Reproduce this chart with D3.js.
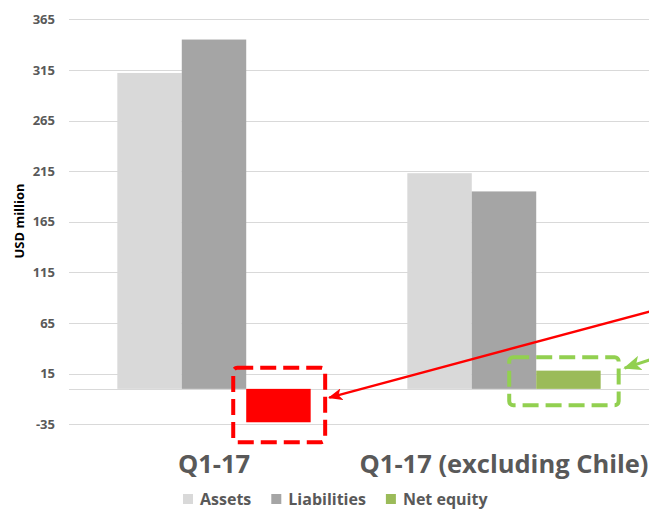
<!DOCTYPE html>
<html>
<head>
<meta charset="utf-8">
<script src="https://cdn.jsdelivr.net/npm/d3@7"></script>
<style>
  body { margin: 0; background: #fff; }
  text { font-family: "Open Sans", sans-serif; font-weight: bold; }
</style>
</head>
<body>
<div id="chart"></div>
<script>
// data
var categories = ['Q1-17', 'Q1-17 (excluding Chile)']
var series = ['Assets', 'Liabilities', 'Net equity']
var assets = [312, 213]
var liabilities = [345, 195]
var netEquity = [-33, 18]
var yTicks = [-35, 15, 65, 115, 165, 215, 265, 315, 365]

var seriesColor = ['#d9d9d9', '#a5a5a5', '#9bbb59']
var equityColor = ['#ff0000', '#9bbb59']
var boxColor = ['#ff0000', '#92d050']

// set dimensions
var width = 649
var height = 509
var margin = { top: 19.3, right: 0, bottom: 84.7, left: 69 }

var svg = d3.select('#chart')
    .append('svg')
    .attr('width', width)
    .attr('height', height)

var x0 = d3.scaleBand()
    .domain(categories)
    .range([margin.left, width - margin.right])
var x1 = d3.scaleBand()
    .domain(series)
    .range([0, x0.bandwidth()])
    .paddingOuter(0.75)
var y = d3.scaleLinear()
    .domain([-35, 365])
    .range([height - margin.bottom, margin.top])

// gridlines
svg.append('g')
    .selectAll('line')
    .data(yTicks.concat([0]))
    .enter().append('line')
    .attr('x1', margin.left)
    .attr('x2', width)
    .attr('y1', function (d) { return Math.round(y(d)) + 0.5 })
    .attr('y2', function (d) { return Math.round(y(d)) + 0.5 })
    .style('stroke', '#d9d9d9')
    .style('stroke-width', 1)

// y axis labels
var yAxis = d3.axisLeft(y)
    .tickValues(yTicks)
    .tickFormat(function (d) { return String(d) })
    .tickSize(0)
    .tickPadding(14)
var gy = svg.append('g')
    .attr('transform', 'translate(' + margin.left + ',0)')
    .call(yAxis)
gy.select('.domain').remove()
gy.selectAll('text')
    .style('font-size', '13px')
    .style('font-family', '"Open Sans", sans-serif')
    .style('font-weight', 'bold')
    .style('fill', '#595959')

svg.append('text')
    .attr('transform', 'translate(24,221) rotate(-90)')
    .style('text-anchor', 'middle')
    .style('font-size', '13px')
    .style('fill', '#000')
    .text('USD million')

// bars
var rows = categories.map(function (c, i) {
    return { cat: i, values: [assets[i], liabilities[i], netEquity[i]] }
})
var group = svg.selectAll('.group')
    .data(rows)
    .enter().append('g')
    .attr('class', 'group')
    .attr('transform', function (d) { return 'translate(' + x0(categories[d.cat]) + ',0)' })
group.selectAll('rect')
    .data(function (d) {
        return d.values.map(function (v, j) { return { cat: d.cat, s: j, v: v } })
    })
    .enter().append('rect')
    .attr('x', function (d) { return x1(series[d.s]) })
    .attr('width', x1.bandwidth())
    .attr('y', function (d) { return y(Math.max(0, d.v)) })
    .attr('height', function (d) { return Math.abs(y(d.v) - y(0)) })
    .style('fill', function (d) { return d.s === 2 ? equityColor[d.cat] : seriesColor[d.s] })

// category labels
var xAxis = d3.axisBottom(x0).tickSize(0).tickPadding(0)
var gx = svg.append('g')
    .attr('transform', 'translate(0,' + 473 + ')')
    .call(xAxis)
gx.select('.domain').remove()
gx.selectAll('text')
    .attr('dy', 0)
    .style('font-size', '25.5px')
    .style('font-family', '"Open Sans", sans-serif')
    .style('font-weight', 'bold')
    .style('fill', '#595959')

// highlight boxes round the net equity bars [left, right, top, bottom]
var boxPad = [[13, 14.5, 21, 20], [27, 18, 13.5, 16.5]]
var boxes = categories.map(function (c, i) {
    var bx = x0(c) + x1('Net equity')
    var top = y(Math.max(0, netEquity[i]))
    var bottom = y(Math.min(0, netEquity[i]))
    return {
        x: bx - boxPad[i][0],
        y: top - boxPad[i][2],
        w: x1.bandwidth() + boxPad[i][0] + boxPad[i][1],
        h: bottom - top + boxPad[i][2] + boxPad[i][3],
        color: boxColor[i]
    }
})
svg.selectAll('.box')
    .data(boxes)
    .enter().append('rect')
    .attr('class', 'box')
    .attr('x', function (d) { return d.x })
    .attr('y', function (d) { return d.y })
    .attr('width', function (d) { return d.w })
    .attr('height', function (d) { return d.h })
    .attr('rx', 4)
    .style('fill', 'none')
    .style('stroke', function (d) { return d.color })
    .style('stroke-width', 4)
    .style('stroke-dasharray', '16,7')

// arrow heads
var defs = svg.append('defs')
boxColor.forEach(function (c, i) {
    defs.append('marker')
        .attr('id', 'arrow' + i)
        .attr('viewBox', '0 0 12 10')
        .attr('refX', 11)
        .attr('refY', 5)
        .attr('markerWidth', 6)
        .attr('markerHeight', 5)
        .attr('orient', 'auto')
        .attr('markerUnits', 'strokeWidth')
        .append('path')
        .attr('d', 'M0,0 L12,5 L0,10 L3,5 Z')
        .style('fill', c)
})

// red arrow from the right edge to the red box
var redBox = boxes[0]
svg.append('line')
    .attr('x1', width + 2)
    .attr('y1', 311.2)
    .attr('x2', redBox.x + redBox.w + 4)
    .attr('y2', redBox.y + redBox.h * 0.4)
    .style('stroke', '#ff0000')
    .style('stroke-width', 2.4)
    .attr('marker-end', 'url(#arrow0)')

// green arrow pointing at the green box
var greenBox = boxes[1]
svg.append('line')
    .attr('x1', width + 8)
    .attr('y1', 357.5)
    .attr('x2', greenBox.x + greenBox.w + 6)
    .attr('y2', greenBox.y + 11)
    .style('stroke', '#92d050')
    .style('stroke-width', 3)
    .attr('marker-end', 'url(#arrow1)')

// legend
var legend = svg.append('g')
    .attr('transform', 'translate(0,' + 504.5 + ')')
var lx = 183
series.forEach(function (s, i) {
    legend.append('rect')
        .attr('x', lx)
        .attr('y', -10.5)
        .attr('width', 10)
        .attr('height', 10)
        .style('fill', seriesColor[i])
    var t = legend.append('text')
        .attr('x', lx + 17)
        .attr('y', 0)
        .style('font-size', '16px')
        .style('fill', '#595959')
        .text(s)
    lx += 17 + t.node().getComputedTextLength() + 20
})
</script>
</body>
</html>
